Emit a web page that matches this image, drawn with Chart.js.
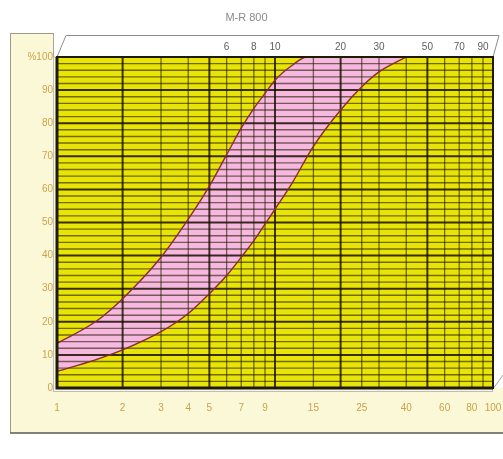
<!DOCTYPE html>
<html><head><meta charset="utf-8">
<script src="https://cdn.jsdelivr.net/npm/chart.js@4.4.0/dist/chart.umd.min.js"></script>
<style>html,body{margin:0;padding:0;background:#fff;}#wrap{width:503px;height:459px;}</style>
</head><body><div id="wrap"><canvas id="c" width="503" height="459"></canvas></div>
<script>
const titleText = 'M-R 800';
const upperX = [1, 1.5, 2, 3, 4, 5, 6, 7, 8, 9, 10, 12, 14, 40];
const upperY = [13.5, 20, 27, 39.5, 51, 61, 70.5, 78.5, 84.5, 89, 93, 97.5, 100, 100];
const lowerX = [1, 1.5, 2, 3, 4, 5, 6, 7, 8, 9, 10, 12, 15, 20, 25, 30, 40];
const lowerY = [5, 8.5, 11.5, 17, 22.5, 28.5, 34, 39.5, 44.5, 49.5, 54, 62, 73, 84, 91, 95.5, 100];
const bottomTickLabels = [1, 2, 3, 4, 5, 7, 9, 15, 25, 40, 60, 80, 100];
const topTickLabels = [6, 8, 10, 20, 30, 50, 70, 90];
const yTickLabels = [0, 10, 20, 30, 40, 50, 60, 70, 80, 90, 100];
const gridX = [1, 2, 3, 4, 5, 6, 7, 8, 9, 10, 15, 20, 25, 30, 40, 50, 60, 70, 80, 90, 100];
const majorGridX = [2, 5, 10, 20, 50];
const gridY = [0,2,4,6,8,10,12,14,16,18,20,22,24,26,28,30,32,34,36,38,40,42,44,46,48,50,52,54,56,58,60,62,64,66,68,70,72,74,76,78,80,82,84,86,88,90,92,94,96,98,100];

const upperData = upperX.map((x, i) => ({x: x, y: upperY[i]}));
const lowerData = lowerX.map((x, i) => ({x: x, y: lowerY[i]}));

const deco = {
  id: 'deco',
  beforeDraw(chart) {
    const ctx = chart.ctx, a = chart.chartArea, W = chart.width;
    ctx.save();
    ctx.fillStyle = '#ffffff';
    ctx.fillRect(0, 0, W, chart.height);
    // cream panel
    ctx.fillStyle = '#fbf8d8';
    ctx.fillRect(10, 33, W - 10, 400);
    ctx.strokeStyle = '#9c9a86';
    ctx.lineWidth = 1;
    ctx.beginPath();
    ctx.moveTo(W, 33.5); ctx.lineTo(10.5, 33.5); ctx.lineTo(10.5, 432.5);
    ctx.stroke();
    ctx.strokeStyle = '#5a5a50';
    ctx.lineWidth = 1.6;
    ctx.beginPath(); ctx.moveTo(10, 433); ctx.lineTo(W, 433); ctx.stroke();
    // white area above and right of plot
    ctx.fillStyle = '#ffffff';
    ctx.fillRect(54, 30, W - 54, a.top - 30);
    ctx.fillRect(a.right, 30, W - a.right, a.bottom - 30);
    // top face outline
    ctx.strokeStyle = '#8e8e8e';
    ctx.lineWidth = 1;
    ctx.beginPath();
    ctx.moveTo(a.left, a.top); ctx.lineTo(a.left + 9, 35.5); ctx.lineTo(a.right + 6, 35.5); ctx.lineTo(a.right, a.top);
    ctx.stroke();
    ctx.strokeStyle = '#a8a690';
    ctx.beginPath(); ctx.moveTo(53.5, 33.5); ctx.lineTo(53.5, a.top); ctx.stroke();
    ctx.beginPath(); ctx.moveTo(a.right, a.bottom + 1); ctx.lineTo(W, a.bottom - 13); ctx.stroke();
    // light outline around plot
    ctx.strokeStyle = '#b9bcc8';
    ctx.lineWidth = 1;
    ctx.strokeRect(a.left - 3.5, a.top, a.right - a.left + 3, a.bottom - a.top + 3.5);
    // yellow plot background
    ctx.fillStyle = '#e9e408';
    ctx.fillRect(a.left, a.top, a.right - a.left, a.bottom - a.top);
    ctx.restore();
  },
  beforeDatasetsDraw(chart) {
    const ctx = chart.ctx, a = chart.chartArea;
    const xs = chart.scales.x, ys = chart.scales.y;
    ctx.save();
    ctx.beginPath(); ctx.rect(a.left, a.top, a.right - a.left, a.bottom - a.top); ctx.clip();
    gridY.forEach(v => {
      const y = ys.getPixelForValue(v);
      const major = v % 10 === 0;
      ctx.strokeStyle = major ? 'rgba(25,15,0,0.85)' : 'rgba(35,25,0,0.6)';
      ctx.lineWidth = major ? 2 : 1.4;
      ctx.beginPath(); ctx.moveTo(a.left, y); ctx.lineTo(a.right, y); ctx.stroke();
    });
    gridX.forEach(v => {
      const x = xs.getPixelForValue(v);
      const major = majorGridX.includes(v);
      ctx.strokeStyle = major ? 'rgba(25,15,0,0.82)' : 'rgba(35,25,0,0.6)';
      ctx.lineWidth = major ? 2 : 1.3;
      ctx.beginPath(); ctx.moveTo(x, a.top); ctx.lineTo(x, a.bottom); ctx.stroke();
    });
    ctx.restore();
  },
  afterDatasetsDraw(chart) {
    const ctx = chart.ctx, a = chart.chartArea;
    ctx.save();
    ctx.strokeStyle = '#1e1a08';
    ctx.lineWidth = 2;
    ctx.strokeRect(a.left, a.top, a.right - a.left, a.bottom - a.top);
    ctx.lineWidth = 3;
    ctx.beginPath(); ctx.moveTo(a.left, a.top); ctx.lineTo(a.left, a.bottom); ctx.lineTo(a.right, a.bottom); ctx.stroke();
    ctx.restore();
  }
};

const labelFont = {family: "'Liberation Sans', Arial, sans-serif", size: 10};
const noPad = s => { s.paddingLeft = 0; s.paddingRight = 0; s.paddingTop = 0; s.paddingBottom = 0; };

new Chart(document.getElementById('c'), {
  type: 'line',
  data: {
    datasets: [
      {label: 'upper', data: upperData, borderColor: '#8c2a3c', borderWidth: 1.4,
       backgroundColor: '#f6b8de', fill: '+1', pointRadius: 0, cubicInterpolationMode: 'monotone'},
      {label: 'lower', data: lowerData, borderColor: '#8c2a2a', borderWidth: 1.4,
       fill: false, pointRadius: 0, cubicInterpolationMode: 'monotone'}
    ]
  },
  options: {
    responsive: false,
    devicePixelRatio: 1,
    animation: false,
    layout: {padding: {left: 0, right: 10, top: 0, bottom: 0}},
    plugins: {
      legend: {display: false},
      tooltip: {enabled: false},
      filler: {drawTime: 'beforeDatasetsDraw'},
      title: {display: true, text: titleText, color: '#8a8a8a',
        font: {family: "'Liberation Sans', Arial, sans-serif", size: 11, weight: 'normal', lineHeight: '14px'},
        padding: {top: 11, bottom: 0}}
    },
    scales: {
      x: {
        type: 'logarithmic', position: 'bottom', min: 1, max: 100,
        afterBuildTicks: s => { s.ticks = bottomTickLabels.map(v => ({value: v})); },
        afterFit: s => { s.height = 71; noPad(s); },
        grid: {display: false, drawTicks: false},
        border: {display: false},
        ticks: {autoSkip: false, maxRotation: 0, minRotation: 0, padding: 14, color: '#c9a24a', font: labelFont,
          callback: v => String(v)}
      },
      x2: {
        type: 'logarithmic', position: 'top', min: 1, max: 100,
        afterBuildTicks: s => { s.ticks = topTickLabels.map(v => ({value: v})); },
        afterFit: s => { s.height = 32; noPad(s); },
        grid: {display: false, drawTicks: false},
        border: {display: false},
        ticks: {autoSkip: false, maxRotation: 0, minRotation: 0, padding: 4, color: '#5e5e5e', font: labelFont,
          callback: v => String(v)}
      },
      y: {
        type: 'linear', min: 0, max: 100,
        afterBuildTicks: s => { s.ticks = yTickLabels.map(v => ({value: v})); },
        afterFit: s => { s.width = 57; noPad(s); },
        grid: {display: false, drawTicks: false},
        border: {display: false},
        ticks: {autoSkip: false, padding: 4, color: '#d0a248', font: labelFont,
          callback: v => (v === 100 ? '%100' : String(v))}
      }
    }
  },
  plugins: [deco]
});
</script>
</body></html>
